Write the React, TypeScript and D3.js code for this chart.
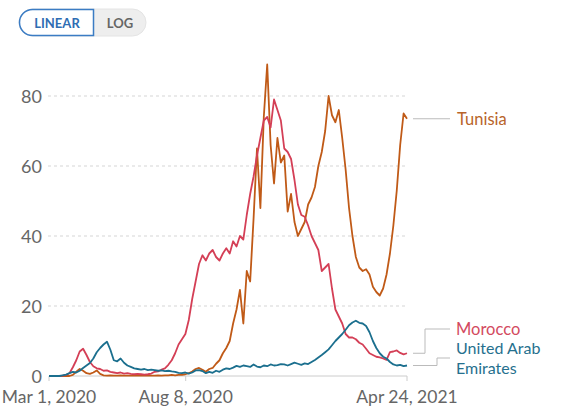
import React from "react";
import * as d3 from "d3";

// daily values sampled evenly between Mar 1, 2020 and Apr 24, 2021
const startDate = new Date(2020, 2, 1);
const endDate = new Date(2021, 3, 24);
const tickDates = [new Date(2020, 2, 1), new Date(2020, 7, 8), new Date(2021, 3, 24)];
const yTicks = [0, 20, 40, 60, 80];

const morocco = [
  0, 0, 0, 0, 0.1, 0.3, 0.8, 2.5, 4.5, 7, 7.8, 6, 4, 2.8, 2.2, 2, 1.5, 1.6, 1.2, 1.0,
  0.8, 1.0, 0.7, 0.8, 0.6, 0.5, 0.6, 0.5, 0.4, 0.5, 0.7, 1.2, 1.3, 1.8, 2.2, 3.2, 4.5, 6.5, 9, 10.5,
  12, 16, 22, 27, 32, 34.5, 33, 35, 36, 34, 33, 35, 36.5, 35, 38.5, 37, 40, 39, 46, 52,
  57, 63, 68, 73, 74, 71, 79, 76, 73, 65, 64, 62, 56, 49, 46, 45.5, 43, 40, 38, 36,
  30, 31, 32, 25, 19, 17, 15, 12, 11, 11, 10.5, 9.5, 9, 7.8, 6.5, 6, 5.5, 5.3, 5, 4.6,
  6.8, 7, 7.3, 6.6, 6.2, 6.5,
];

const uae = [
  0, 0, 0, 0, 0.2, 0.4, 0.8, 1.2, 1.0, 1.5, 2.3, 3, 3.7, 5, 6.8, 8, 9, 9.8, 7.5, 4.5,
  4.2, 5, 3.8, 3, 2.6, 2.2, 2.0, 1.8, 2.0, 1.7, 1.8, 1.7, 1.5, 1.6, 1.4, 1.5, 1.3, 1.2, 0.9, 0.8,
  1.0, 0.7, 1.0, 1.6, 1.7, 1.4, 0.8, 1.2, 0.9, 1.5, 1.2, 1.8, 2.2, 2.0, 2.4, 2.9, 2.6, 3.0, 2.8, 2.6,
  3.3, 2.7, 2.5, 3.0, 2.8, 3.3, 3.0, 3.1, 3.4, 3.3, 3.0, 3.4, 3.8, 3.5, 3.2, 3.6, 3.4, 4.0, 4.6, 5.3,
  6.0, 6.8, 7.6, 8.8, 10, 11, 12, 13.2, 14.5, 15.3, 15.8, 15.2, 15, 14.3, 12.5, 10, 8, 6.5, 5.5, 5.0,
  4.0, 3.3, 3.0, 3.2, 2.8, 3.0,
];

const tunisia = [
  0, 0, 0, 0, 0, 0, 0, 0.3, 1.2, 2.0, 1.5, 0.8, 0.6, 1.0, 1.6, 0.6, 0.2, 0.1, 0.2, 0.1,
  0.1, 0.2, 0.1, 0.1, 0.1, 0.2, 0.1, 0.1, 0.1, 0.2, 0.1, 0.1, 0.2, 0.1, 0.2, 0.2, 0.3, 0.2, 0.3, 0.3,
  0.5, 0.8, 1.3, 2.0, 2.3, 1.8, 1.2, 2.0, 2.3, 3.5, 4.5, 6.5, 8, 10, 15, 19, 24.6, 15, 30, 27,
  45, 65, 48, 74, 89, 66, 55, 68, 61, 63, 47, 52, 44, 40, 42, 44, 49, 51, 54, 60,
  64, 70, 80, 74.5, 72.5, 76, 68, 59, 48, 40, 34, 31, 30, 30.5, 29, 25.5, 24, 23, 25, 29,
  35, 43, 53, 66, 75, 73.5,
];

const series = [
  { name: "Tunisia", values: tunisia, color: "#c05a17" },
  { name: "Morocco", values: morocco, color: "#d43f56" },
  { name: "United Arab Emirates", values: uae, color: "#1b6f8e" },
];

const W = 564;
const H = 414;
const font = "Lato, 'Noto Sans', sans-serif";

export default function App() {
  const x = d3.scaleTime().domain([startDate, endDate]).range([49, 407]);
  const y = d3.scaleLinear().domain([0, 80]).range([376, 96]);
  const span = endDate.getTime() - startDate.getTime();
  const fmt = d3.timeFormat("%b %-d, %Y");

  const line = (vals: number[]) =>
    d3
      .line<number>()
      .x((d, i) => x(new Date(startDate.getTime() + (i * span) / (vals.length - 1))))
      .y((d) => y(d))(vals) as string;

  const last = (vals: number[]) => y(vals[vals.length - 1]);
  const xEnd = x(endDate) + 6;

  return (
    <svg
      width={W}
      height={H}
      style={{ position: "absolute", left: 0, top: 0, background: "#fff" }}
      fontFamily={font}
    >
      {/* linear / log toggle */}
      <rect x={19} y={9} width={127} height={27} rx={13.5} fill="#eeeeee" stroke="#e4e4e4" />
      <path d="M32.5,9.5 H93.5 V35.5 H32.5 A13,13 0 0 1 32.5,9.5 Z" fill="#fff" stroke="#3b7cc4" strokeWidth={1.5} />
      <text x={57} y={23} textAnchor="middle" dominantBaseline="central" fontSize={13} fontWeight={700} fill="#2f6db3">
        LINEAR
      </text>
      <text x={120} y={23} textAnchor="middle" dominantBaseline="central" fontSize={13} fontWeight={700} fill="#666">
        LOG
      </text>

      {/* grid */}
      {yTicks.filter((t) => t > 0).map((t) => (
        <line key={t} x1={48} x2={x(endDate)} y1={y(t)} y2={y(t)} stroke="#d5d5d5" strokeDasharray="3,3" />
      ))}
      {yTicks.map((t) => (
        <text key={t} x={42} y={y(t)} textAnchor="end" dominantBaseline="central" fontSize={18} fill="#666">
          {t}
        </text>
      ))}

      {/* x axis */}
      <line x1={x(startDate)} x2={x(endDate)} y1={y(0)} y2={y(0)} stroke="#cccccc" />
      {tickDates.map((d) => (
        <g key={+d}>
          <line x1={x(d)} x2={x(d)} y1={y(0)} y2={y(0) + 5} stroke="#cccccc" />
          <text x={x(d)} y={403} textAnchor="middle" fontSize={17.5} fill="#666">
            {fmt(d)}
          </text>
        </g>
      ))}

      {/* lines */}
      {series.map((s) => (
        <path key={s.name} d={line(s.values)} fill="none" stroke={s.color} strokeWidth={1.8} strokeLinejoin="round" />
      ))}

      {/* labels */}
      <path d={`M${xEnd},${last(tunisia)} H450`} fill="none" stroke="#bbb" />
      <text x={457} y={last(tunisia)} dominantBaseline="central" fontSize={16.5} fill="#b8642a">
        Tunisia
      </text>

      <path d={`M${xEnd},${last(morocco)} H425 V329 H450`} fill="none" stroke="#bbb" />
      <text x={456} y={329} dominantBaseline="central" fontSize={16.5} fill="#d34a60">
        Morocco
      </text>

      <path d={`M${xEnd},${last(uae)} H437 V358 H450`} fill="none" stroke="#bbb" />
      <text x={456} y={347.5} dominantBaseline="central" fontSize={16} fill="#26708e">
        United Arab
      </text>
      <text x={456} y={367.5} dominantBaseline="central" fontSize={16} fill="#26708e">
        Emirates
      </text>
    </svg>
  );
}
